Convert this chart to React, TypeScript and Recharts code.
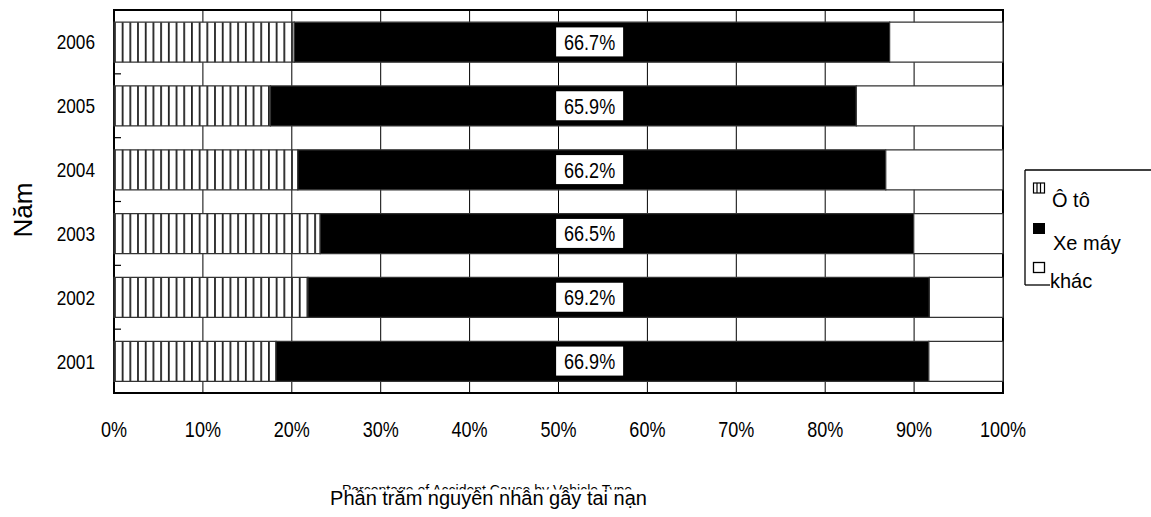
import React from 'react';
import {
  BarChart,
  Bar,
  XAxis,
  YAxis,
  CartesianGrid,
  ReferenceArea,
  ReferenceDot,
} from 'recharts';

// Accident causes by vehicle type, per year (shares as published)
const years = ['2001', '2002', '2003', '2004', '2005', '2006'];
const carShare = [16.6, 21.6, 23.1, 20.7, 17.6, 20.2];
const motorbikeShare = [66.9, 69.2, 66.5, 66.2, 65.9, 66.7];
const otherShare = [7.6, 8.2, 10.0, 13.2, 16.5, 12.7];

const seriesNames = ['Ô tô', 'Xe máy', 'khác'];
const percentTicks = [0, 0.1, 0.2, 0.3, 0.4, 0.5, 0.6, 0.7, 0.8, 0.9, 1];
const xTitle = 'Phần trăm nguyên nhân gây tai nạn';
const xTitleEn = 'Percentage of Accident Cause by Vehicle Type';
const yTitle = 'Năm';

const rows = years.map((year, i) => ({
  year,
  oto: carShare[i],
  xeMay: motorbikeShare[i],
  khac: otherShare[i],
}));

// where the motorbike share labels sit along the 0..1 axis
const LABEL_AT = 0.535;

const SANS = "'Liberation Sans', Arial, sans-serif";
// condensed look for numbers: regular sans squeezed horizontally
const SQUEEZE = 0.82;

const W = 1151;
const H = 517;
const MARGIN = { top: 10, right: 148, bottom: 94, left: 54 };
const X_AXIS_H = 30;
const Y_AXIS_W = 60;
const Y_TICK_GAP = 13;
const TICK_SIZE = 6;
const PLOT_H = H - MARGIN.top - MARGIN.bottom - X_AXIS_H;
const BAND = PLOT_H / years.length;

const NarrowText = ({ x, y, anchor, dy, size, children }: any) => (
  <g transform={`translate(${x},${y})`}>
    <text
      transform={`scale(${SQUEEZE},1)`}
      x={0}
      y={0}
      dy={dy}
      textAnchor={anchor}
      fontFamily={SANS}
      fontSize={size}
      fill="#000"
    >
      {children}
    </text>
  </g>
);

const PercentTick = (props: any) => {
  const { x, y, payload } = props;
  return (
    <NarrowText x={x} y={y} anchor="middle" dy="0.71em" size={22}>
      {`${Math.round(payload.value * 100)}%`}
    </NarrowText>
  );
};

// year label plus a short inward mark on the upper edge of its band
const YearTick = (props: any) => {
  const { x, y, payload } = props;
  const axisX = x + Y_TICK_GAP + TICK_SIZE;
  const edgeY = y - BAND / 2;
  return (
    <g>
      <line x1={axisX} y1={edgeY} x2={axisX + 7} y2={edgeY} stroke="#000" strokeWidth={1.2} />
      <NarrowText x={x} y={y} anchor="end" dy="0.355em" size={21}>
        {payload.value}
      </NarrowText>
    </g>
  );
};

const ShareLabel = (props: any) => {
  const { cx, cy, value } = props;
  if (cx == null || cy == null) return null;
  return (
    <g>
      <rect x={cx - 33.5} y={cy - 14.5} width={67} height={29} fill="#fff" />
      <NarrowText x={cx} y={cy} anchor="middle" dy="0.36em" size={22}>
        {`${value.toFixed(1)}%`}
      </NarrowText>
    </g>
  );
};

export default function App() {
  return (
    <div style={{ position: 'absolute', left: 0, top: 0, width: W, height: H, background: '#fff' }}>
      <svg width={0} height={0} style={{ position: 'absolute' }}>
        <defs>
          <pattern
            id="car-stripes"
            patternUnits="userSpaceOnUse"
            x={MARGIN.left + Y_AXIS_W}
            y={0}
            width={7.7}
            height={10}
          >
            <rect x={0} y={0} width={7.7} height={10} fill="#fff" />
            <rect x={0} y={0} width={1.8} height={10} fill="#222" />
          </pattern>
        </defs>
      </svg>
      <BarChart
        width={W}
        height={H}
        data={rows}
        layout="vertical"
        stackOffset="expand"
        barCategoryGap="19%"
        margin={MARGIN}
      >
        <CartesianGrid horizontal={false} stroke="#000" strokeWidth={1} />
        <XAxis
          type="number"
          domain={[0, 1]}
          ticks={percentTicks}
          interval={0}
          axisLine={false}
          tickLine={false}
          tickMargin={22}
          tickSize={TICK_SIZE}
          height={X_AXIS_H}
          tick={<PercentTick />}
        />
        <YAxis
          type="category"
          dataKey="year"
          reversed
          width={Y_AXIS_W}
          interval={0}
          axisLine={false}
          tickLine={false}
          tickSize={TICK_SIZE}
          tickMargin={Y_TICK_GAP}
          tick={<YearTick />}
        />
        <Bar dataKey="oto" name={seriesNames[0]} stackId="s" fill="url(#car-stripes)" stroke="#333" strokeWidth={1.2} isAnimationActive={false} />
        <Bar dataKey="xeMay" name={seriesNames[1]} stackId="s" fill="#000" stroke="#333" strokeWidth={1.2} isAnimationActive={false} />
        <Bar dataKey="khac" name={seriesNames[2]} stackId="s" fill="#fff" stroke="#333" strokeWidth={1.2} isAnimationActive={false} />
        {rows.map((r) => (
          <ReferenceDot
            key={r.year}
            x={LABEL_AT}
            y={r.year}
            r={0}
            ifOverflow="visible"
            shape={(p: any) => <ShareLabel {...p} value={r.xeMay} />}
          />
        ))}
        <ReferenceArea x1={0} x2={1} fill="none" fillOpacity={0} stroke="#000" strokeWidth={2} ifOverflow="visible" />
      </BarChart>

      <svg
        width={W}
        height={H}
        style={{ position: 'absolute', left: 0, top: 0, pointerEvents: 'none' }}
      >
        {/* axis titles */}
        <text
          x={32}
          y={210}
          transform="rotate(-90, 32, 210)"
          textAnchor="middle"
          fontFamily={SANS}
          fontSize={26}
          fill="#000"
        >
          {yTitle}
        </text>
        <text x={487} y={495} textAnchor="middle" fontFamily={SANS} fontSize={14} fill="#000">
          {xTitleEn}
        </text>
        <rect x={300} y={489.5} width={380} height={28} fill="#fff" />
        <text x={488.5} y={505} textAnchor="middle" fontFamily={SANS} fontSize={20} fill="#000">
          {xTitle}
        </text>

        {/* legend */}
        <g stroke="#000" strokeWidth={1.3} fill="none">
          <line x1={1025} y1={170} x2={1151} y2={170} />
          <line x1={1025} y1={170} x2={1025} y2={285} />
          <line x1={1025} y1={285} x2={1050} y2={285} />
        </g>
        <g>
          <rect x={1033.5} y={183} width={11} height={10} fill="#fff" stroke="#000" strokeWidth={1.2} />
          <line x1={1037} y1={183} x2={1037} y2={193} stroke="#000" strokeWidth={1.2} />
          <line x1={1040.5} y1={183} x2={1040.5} y2={193} stroke="#000" strokeWidth={1.2} />
          <text x={1052} y={207} fontFamily={SANS} fontSize={20} fill="#000">{seriesNames[0]}</text>

          <rect x={1033} y={223} width={12} height={11} fill="#000" />
          <text x={1053} y={250} fontFamily={SANS} fontSize={20} fill="#000">{seriesNames[1]}</text>

          <rect x={1033.5} y={262.5} width={11} height={10} fill="#fff" stroke="#000" strokeWidth={1.3} />
          <text x={1050} y={288} fontFamily={SANS} fontSize={20} fill="#000">{seriesNames[2]}</text>
        </g>
      </svg>
    </div>
  );
}
